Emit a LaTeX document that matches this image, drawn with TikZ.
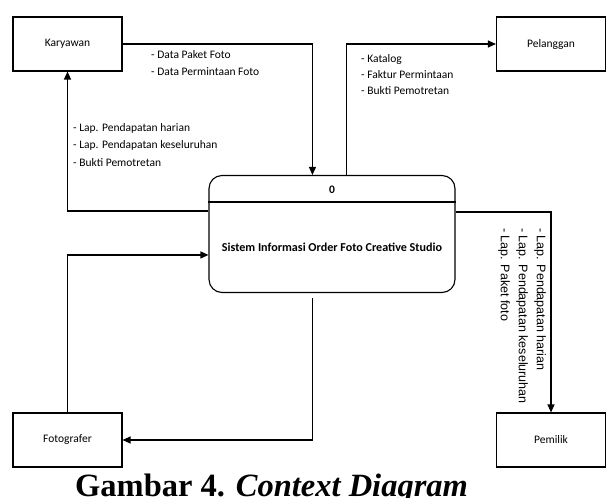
\documentclass[tikz,border=0pt]{standalone}
\usepackage{fontspec}
\setmainfont{Carlito}
\newfontfamily\capfont{Liberation Serif}
\newfontfamily\rotfont{Liberation Sans}
\usepackage{tikz}
\usetikzlibrary{arrows.meta}

\begin{document}
\begin{tikzpicture}[x=1pt,y=-1pt,
    entity/.style={draw,line width=1.1pt,minimum width=109pt,minimum height=54pt,inner sep=0pt,font=\fontsize{11.5}{13}\selectfont},
    flow/.style={line width=1.1pt,-{Triangle[length=8pt,width=7pt]}},
    lbl/.style={anchor=north west,align=left,inner sep=0pt,font=\fontsize{11.5}{17.5}\selectfont}]
    \useasboundingbox (0,0) rectangle (609,497);

    \node[entity] (kar) at (67.5,44) {Karyawan} ;
    \node[entity] (pel) at (551,44) {Pelanggan} ;
    \node[entity] (fot) at (67.5,440) {Fotografer} ;
    \node[entity] (pem) at (551,440) {Pemilik} ;

    \node[draw,line width=1.1pt,rounded corners=13pt,minimum width=246pt,minimum height=117pt,inner sep=0pt] (proc) at (332,234) {} ;
    \draw[line width=1.1pt] ([yshift=-27pt]proc.north west) -- ([yshift=-27pt]proc.north east) ;
    \node[font=\fontsize{11.5}{13}\selectfont\bfseries] (num) at (332,190) {0} ;
    \node[font=\fontsize{12.1}{14}\selectfont\bfseries] (name) at (332,247) {Sistem Informasi Order Foto Creative Studio} ;

    \draw[flow] (kar.east) -| ([xshift=104pt]proc.north west) ;
    \draw[flow] ([xshift=138pt]proc.north west) |- (pel.west) ;
    \draw[flow] ([yshift=-36pt]proc.north west) -| (kar.south) ;
    \draw[flow] (fot.north) |- ([yshift=-80pt]proc.north west) ;
    \draw[flow] ([xshift=104pt,yshift=-5pt]proc.south west) |- (fot.east) ;
    \draw[flow] ([yshift=-37pt]proc.north east) -| (pem.north) ;

    \node[lbl] (l1) at (151,50) {- Data Paket Foto\\- Data Permintaan Foto} ;
    \node[lbl] (l2) at (73,123) {- Lap. Pendapatan harian\\- Lap. Pendapatan keseluruhan\\- Bukti Pemotretan} ;
    \node[lbl,font=\fontsize{11.5}{16}\selectfont] (l3) at (361,54) {- Katalog\\- Faktur Permintaan\\- Bukti Pemotretan} ;
    \node[lbl,font=\rotfont\fontsize{12.5}{18}\selectfont,rotate=-90] (l4) at (546,228) {- Lap. Pendapatan harian\\- Lap. Pendapatan keseluruhan\\- Lap. Paket foto} ;
    \node[anchor=base west,inner sep=0pt,font=\capfont\fontsize{32.5}{36}\selectfont\bfseries] (cap) at (75,496) {Gambar 4. \textit{Context Diagram}} ;
\end{tikzpicture}
\end{document}
